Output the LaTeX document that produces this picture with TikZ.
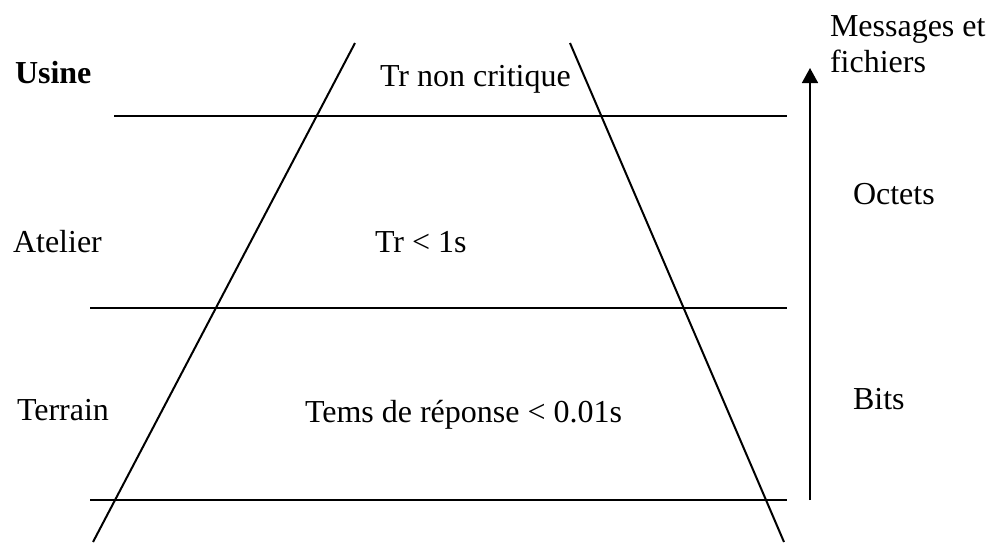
\documentclass[tikz,border=0pt]{standalone}
\usepackage{fontspec}
\setmainfont{Liberation Serif}
\usetikzlibrary{arrows.meta}
\tikzset{
  lbl/.style={anchor=base west,inner sep=0pt,outer sep=0pt,font=\fontsize{32}{38}\selectfont},
  rule/.style={line width=2pt,black},
}
\begin{document}
\begin{tikzpicture}[x=1pt,y=-1pt]
\useasboundingbox (0,0) rectangle (990,542);
% horizontal lines
\coordinate (h1a) at (114,116); \coordinate (h1b) at (787,116);
\coordinate (h2a) at (90,308);  \coordinate (h2b) at (787,308);
\coordinate (h3a) at (90,500);  \coordinate (h3b) at (787,500);
\draw[rule] (h1a) -- (h1b);
\draw[rule] (h2a) -- (h2b);
\draw[rule] (h3a) -- (h3b);
% slanted lines
\coordinate (lt) at (355,43); \coordinate (lb) at (93,542);
\coordinate (rt) at (570,43); \coordinate (rb) at (784,542);
\draw[rule] (lt) -- (lb);
\draw[rule] (rt) -- (rb);
% arrow
\coordinate (ab) at (810,500); \coordinate (at) at (810,68);
\draw[line width=1.6pt,-{Triangle[width=16pt,length=15pt]}] (ab) -- (at);
% labels
\node[lbl,font=\fontsize{32}{38}\selectfont\bfseries] (usine) at (15,83) {Usine};
\node[lbl] (trnc) at (380,86) {Tr non critique};
\node[lbl] (msg) at (830,36) {Messages et};
\node[lbl] (fich) at (830,72) {fichiers};
\node[lbl] (atel) at (13,252) {Atelier};
\node[lbl] (tr1) at (375,252) {Tr < 1s};
\node[lbl] (oct) at (853,204) {Octets};
\node[lbl] (terr) at (17,420) {Terrain};
\node[lbl] (tems) at (305,422) {Tems de réponse < 0.01s};
\node[lbl] (bits) at (853,409) {Bits};
\end{tikzpicture}
\end{document}
